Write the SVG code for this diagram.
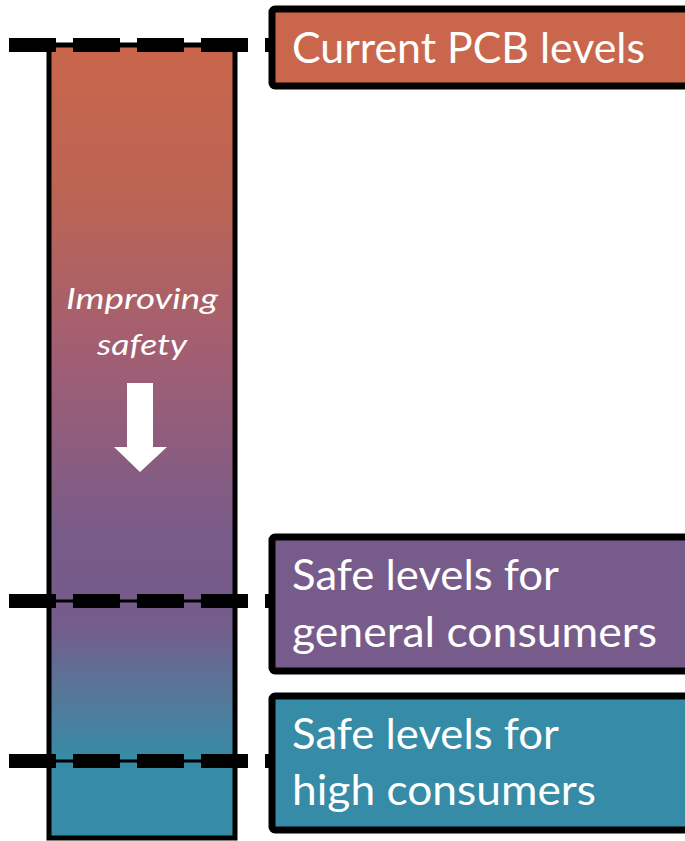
<svg xmlns="http://www.w3.org/2000/svg" width="685" height="841" viewBox="0 0 685 841">
<style>
.lbl{font-family:Lato,"Open Sans","Liberation Sans",sans-serif;font-size:42px;fill:#fff}
.box{stroke:#000;stroke-width:7}
.dash{stroke:#000;stroke-width:14;stroke-dasharray:47 17;fill:none}
.thin{stroke:#000;stroke-width:3;fill:none}
</style>
<defs>
<linearGradient id="bar" x1="0" y1="45" x2="0" y2="838" gradientUnits="userSpaceOnUse">
<stop offset="0" stop-color="#C9664B"/>
<stop offset="0.2" stop-color="#BB6455"/>
<stop offset="0.4" stop-color="#A05E74"/>
<stop offset="0.62" stop-color="#785B89"/>
<stop offset="0.73" stop-color="#745C8B"/>
<stop offset="0.82" stop-color="#567799"/>
<stop offset="0.9" stop-color="#368BA6"/>
<stop offset="1" stop-color="#368BA6"/>
</linearGradient>
</defs>
<g id="bar-node">
<rect x="49" y="45" width="186" height="793" fill="url(#bar)" stroke="#000" stroke-width="5"/>
<text x="142" y="309" text-anchor="middle" font-family="Lato,'Open Sans',sans-serif" font-style="italic" font-size="28" fill="#fff" textLength="152" lengthAdjust="spacingAndGlyphs">Improving</text>
<text x="142" y="355" text-anchor="middle" font-family="Lato,'Open Sans',sans-serif" font-style="italic" font-size="28" fill="#fff" textLength="90" lengthAdjust="spacingAndGlyphs">safety</text>
<polygon points="127,383 153,383 153,447 167,447 140,472 114,447 127,447" fill="#fff"/>
</g>
<g id="connectors">
<line class="thin" x1="49" y1="45" x2="235" y2="45"/>
<line class="dash" x1="9" y1="45" x2="275" y2="45"/>
<line class="thin" x1="49" y1="601" x2="235" y2="601"/>
<line class="dash" x1="9" y1="601" x2="275" y2="601"/>
<line class="thin" x1="49" y1="761" x2="235" y2="761"/>
<line class="dash" x1="9" y1="761" x2="275" y2="761"/>
</g>
<g id="current">
<rect class="box" x="272" y="9" width="430" height="77" rx="3" fill="#C9664B"/>
<text class="lbl" x="292" y="63" textLength="353" lengthAdjust="spacingAndGlyphs">Current PCB levels</text>
</g>
<g id="general">
<rect class="box" x="272" y="537" width="430" height="134" rx="3" fill="#775B8A"/>
<text class="lbl" x="292" y="590" textLength="267" lengthAdjust="spacingAndGlyphs">Safe levels for</text>
<text class="lbl" x="292" y="647" textLength="365" lengthAdjust="spacingAndGlyphs">general consumers</text>
</g>
<g id="high">
<rect class="box" x="272" y="696" width="430" height="134" rx="3" fill="#368BA6"/>
<text class="lbl" x="292" y="749" textLength="267" lengthAdjust="spacingAndGlyphs">Safe levels for</text>
<text class="lbl" x="292" y="805" textLength="304" lengthAdjust="spacingAndGlyphs">high consumers</text>
</g>
</svg>
